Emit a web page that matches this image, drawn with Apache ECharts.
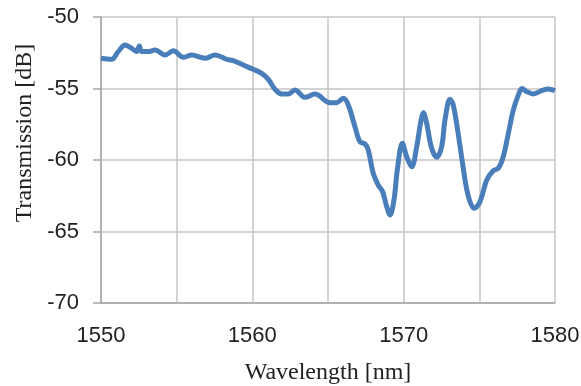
<!DOCTYPE html>
<html>
<head>
<meta charset="utf-8">
<script src="https://cdn.jsdelivr.net/npm/echarts@6/dist/echarts.min.js"></script>
<style>
html,body{margin:0;padding:0;background:#fff;}
#c{width:581px;height:386px;}
</style>
</head>
<body>
<div id="c"></div>
<script>
var wavelength = [1550.0,1550.71,1551.14,1551.59,1552.03,1552.36,1552.53,1552.69,1553.13,1553.57,1554.23,1554.78,1555.44,1555.99,1556.87,1557.53,1558.31,1558.74,1559.40,1560.06,1560.62,1561.06,1561.50,1561.94,1562.38,1562.82,1563.48,1564.14,1565.13,1565.57,1566.01,1566.34,1566.78,1567.11,1567.45,1567.66,1567.99,1568.32,1568.61,1568.88,1569.10,1569.36,1569.58,1569.91,1570.20,1570.53,1570.86,1571.15,1571.30,1571.52,1571.85,1572.18,1572.51,1572.73,1573.06,1573.26,1573.52,1573.86,1574.12,1574.38,1574.65,1575.04,1575.49,1575.92,1576.25,1576.58,1576.92,1577.25,1577.58,1577.82,1578.13,1578.57,1579.12,1579.56,1580.0];
var transmission = [-52.89,-52.96,-52.42,-51.96,-52.19,-52.42,-52.03,-52.42,-52.42,-52.31,-52.66,-52.36,-52.82,-52.66,-52.89,-52.66,-52.96,-53.05,-53.36,-53.66,-53.94,-54.36,-55.06,-55.38,-55.38,-55.10,-55.62,-55.38,-55.99,-55.99,-55.69,-56.15,-57.67,-58.72,-58.88,-59.30,-60.93,-61.75,-62.22,-63.26,-63.85,-62.80,-60.70,-58.83,-59.77,-60.47,-59.07,-57.20,-56.70,-57.44,-59.18,-59.80,-59.07,-57.20,-55.75,-56.10,-57.60,-60.00,-61.80,-62.90,-63.38,-62.92,-61.40,-60.75,-60.58,-59.77,-58.13,-56.50,-55.45,-55.00,-55.22,-55.38,-55.15,-55.03,-55.15];
var xLabels = [1550,1560,1570,1580];
var yTicks = [-70,-65,-60,-55,-50];

var points = wavelength.map(function(w,i){return [w, transmission[i]];});
var chart = echarts.init(document.getElementById('c'), null, {renderer:'canvas'});
chart.setOption({
  animation:false,
  backgroundColor:'#ffffff',
  grid:{left:101, right:26, top:17, bottom:83, containLabel:false, outerBoundsMode:'none'},
  xAxis:{
    type:'value', min:1550, max:1580, interval:5,
    axisLine:{show:true, lineStyle:{color:'#a6a6a6', width:1.5}},
    axisTick:{show:false},
    splitLine:{show:true, lineStyle:{color:'#c4c4c4', width:1.5}},
    axisLabel:{
      margin:22, color:'#222', fontFamily:'Liberation Sans', fontSize:22,
      formatter:function(v){return xLabels.indexOf(v)>=0 ? String(v) : '';}
    },
    name:'Wavelength [nm]', nameLocation:'middle', nameGap:58,
    nameTextStyle:{fontFamily:'Liberation Serif', fontSize:24, color:'#222'}
  },
  yAxis:{
    type:'value', min:-70, max:-50, interval:5,
    axisLine:{show:true, lineStyle:{color:'#a6a6a6', width:1.5}},
    axisTick:{show:true, inside:false, length:8, lineStyle:{color:'#a6a6a6', width:1.5}},
    splitLine:{show:true, lineStyle:{color:'#c4c4c4', width:1.5}},
    axisLabel:{
      margin:22, color:'#222', fontFamily:'Liberation Sans', fontSize:22,
      formatter:function(v){return yTicks.indexOf(v)>=0 ? String(v) : '';}
    }
  },
  graphic:[{
    type:'text', x:25, y:133, rotation:Math.PI/2,
    style:{text:'Transmission [dB]', fontFamily:'Liberation Serif', fontSize:24, fill:'#222', textAlign:'center', textVerticalAlign:'middle'}
  }],
  series:[{
    type:'line', data:points, showSymbol:false, smooth:0.35,
    lineStyle:{color:'#4a7ebb', width:5}
  }]
});
</script>
</body>
</html>
